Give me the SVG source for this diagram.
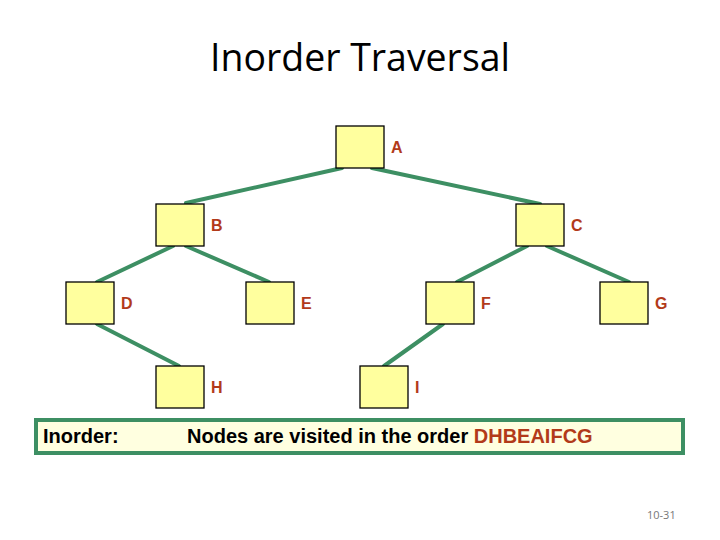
<svg xmlns="http://www.w3.org/2000/svg" width="720" height="540" viewBox="0 0 720 540">
<style>
.node{fill:#FFFF9E;stroke:#000;stroke-width:1.3}
.lbl{font-family:"Liberation Sans",Arial,sans-serif;font-weight:bold;font-size:16px;fill:#B23A1A}
.edge{stroke:#3D8F63;stroke-width:4;stroke-linecap:round;fill:none}
.txt{font-family:"Liberation Sans",Arial,sans-serif;font-weight:bold;font-size:20px;fill:#000}
</style>
<rect width="720" height="540" fill="#fff"/>
<text x="210" y="71" font-family="'Open Sans',sans-serif" font-size="38" textLength="300" lengthAdjust="spacingAndGlyphs" fill="#000">Inorder Traversal</text>
<g id="connectors">
<line class="edge" x1="342" y1="168" x2="186" y2="203"/>
<line class="edge" x1="372" y1="168" x2="540" y2="204"/>
<line class="edge" x1="173" y1="246" x2="97" y2="282"/>
<line class="edge" x1="186" y1="246" x2="269" y2="282"/>
<line class="edge" x1="527" y1="246" x2="457" y2="282"/>
<line class="edge" x1="547" y1="246" x2="629" y2="282"/>
<line class="edge" x1="97" y1="324" x2="179" y2="366"/>
<line class="edge" x1="443" y1="324" x2="384" y2="366"/>
</g>
<g id="node-A"><rect class="node" x="336" y="126" width="48" height="42"/><text class="lbl" x="391" y="153">A</text></g>
<g id="node-B"><rect class="node" x="156" y="204" width="48" height="42"/><text class="lbl" x="211" y="231">B</text></g>
<g id="node-C"><rect class="node" x="516" y="204" width="48" height="42"/><text class="lbl" x="571" y="231">C</text></g>
<g id="node-D"><rect class="node" x="66" y="282" width="48" height="42"/><text class="lbl" x="121" y="309">D</text></g>
<g id="node-E"><rect class="node" x="246" y="282" width="48" height="42"/><text class="lbl" x="301" y="309">E</text></g>
<g id="node-F"><rect class="node" x="426" y="282" width="48" height="42"/><text class="lbl" x="481" y="309">F</text></g>
<g id="node-G"><rect class="node" x="600" y="282" width="48" height="42"/><text class="lbl" x="655" y="309">G</text></g>
<g id="node-H"><rect class="node" x="156" y="366" width="48" height="42"/><text class="lbl" x="211" y="393">H</text></g>
<g id="node-I"><rect class="node" x="360" y="366" width="48" height="42"/><text class="lbl" x="415" y="393">I</text></g>
<g id="result">
<rect x="36" y="420" width="647" height="33" fill="#FFFFE0" stroke="#3D8F63" stroke-width="4"/>
<text class="txt" x="43" y="443">Inorder:</text>
<text class="txt" x="187" y="443">Nodes are visited in the order <tspan fill="#B23A1A">DHBEAIFCG</tspan></text>
</g>
<text x="647" y="519" font-family="'Open Sans',sans-serif" font-size="11" fill="#777">10-31</text>
</svg>
